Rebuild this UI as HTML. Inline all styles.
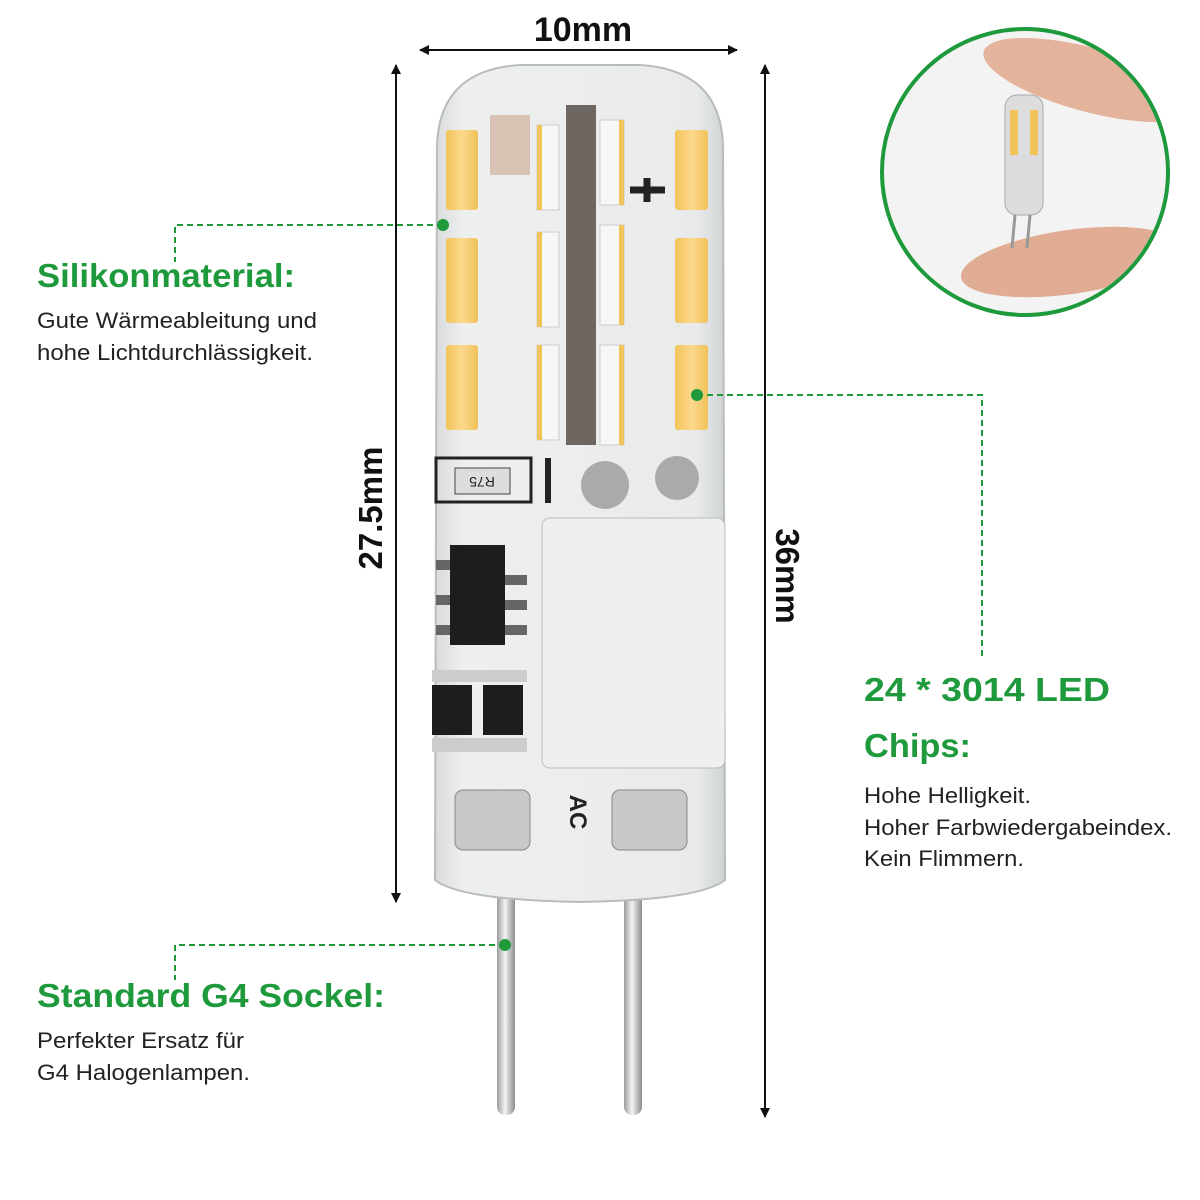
<!DOCTYPE html>
<html><head><meta charset="utf-8"><style>
html,body{margin:0;padding:0;background:#fff}
svg{display:block}
text{font-family:"Liberation Sans",sans-serif}
</style></head><body>
<svg width="1200" height="1200" viewBox="0 0 1200 1200" xmlns="http://www.w3.org/2000/svg">
<defs>
<marker id="ah" markerWidth="10" markerHeight="12" refX="9" refY="6" orient="auto-start-reverse" markerUnits="userSpaceOnUse" viewBox="0 0 10 12"><path d="M0,1 L10,6 L0,11 z" fill="#111"/></marker>
<linearGradient id="body" x1="0" x2="1"><stop offset="0" stop-color="#d8dadb"/><stop offset="0.1" stop-color="#eef0f0"/><stop offset="0.9" stop-color="#e9ebeb"/><stop offset="1" stop-color="#cfd2d3"/></linearGradient>
<linearGradient id="led" x1="0" x2="1"><stop offset="0" stop-color="#f2c35a"/><stop offset="0.5" stop-color="#fbd98c"/><stop offset="1" stop-color="#f0c15a"/></linearGradient>
<linearGradient id="pin" x1="0" x2="1"><stop offset="0" stop-color="#9a9c9e"/><stop offset="0.45" stop-color="#f4f4f4"/><stop offset="1" stop-color="#8a8c8e"/></linearGradient>
<clipPath id="cc"><circle cx="1025" cy="172" r="141"/></clipPath>
</defs>

<rect x="497" y="880" width="18" height="235" rx="8" fill="url(#pin)"/>
<rect x="624" y="880" width="18" height="235" rx="8" fill="url(#pin)"/>

<path d="M437,150 Q437,70 520,65 L640,65 Q723,70 723,150 L725,880 Q700,900 580,902 Q460,900 435,880 Z" fill="url(#body)" stroke="#b9bcbd" stroke-width="2"/>
<rect x="566" y="105" width="30" height="340" fill="#6e6660"/>
<rect x="446" y="130" width="32" height="80" rx="3" fill="url(#led)"/>
<rect x="446" y="238" width="32" height="85" rx="3" fill="url(#led)"/>
<rect x="446" y="345" width="32" height="85" rx="3" fill="url(#led)"/>
<rect x="675" y="130" width="33" height="80" rx="3" fill="url(#led)"/>
<rect x="675" y="238" width="33" height="85" rx="3" fill="url(#led)"/>
<rect x="675" y="345" width="33" height="85" rx="3" fill="url(#led)"/>
<rect x="537" y="125" width="22" height="85" fill="#f7f7f5" stroke="#ccc"/><rect x="537" y="125" width="5" height="85" fill="#f2c35a"/>
<rect x="537" y="232" width="22" height="95" fill="#f7f7f5" stroke="#ccc"/><rect x="537" y="232" width="5" height="95" fill="#f2c35a"/>
<rect x="537" y="345" width="22" height="95" fill="#f7f7f5" stroke="#ccc"/><rect x="537" y="345" width="5" height="95" fill="#f2c35a"/>
<rect x="600" y="120" width="24" height="85" fill="#f7f7f5" stroke="#ccc"/><rect x="619" y="120" width="5" height="85" fill="#f2c35a"/>
<rect x="600" y="225" width="24" height="100" fill="#f7f7f5" stroke="#ccc"/><rect x="619" y="225" width="5" height="100" fill="#f2c35a"/>
<rect x="600" y="345" width="24" height="100" fill="#f7f7f5" stroke="#ccc"/><rect x="619" y="345" width="5" height="100" fill="#f2c35a"/>
<rect x="490" y="115" width="40" height="60" fill="#c9a48a" opacity="0.6"/>
<path d="M630 190h35M647 178v24" stroke="#222" stroke-width="7"/>
<rect x="436" y="458" width="95" height="44" fill="none" stroke="#222" stroke-width="3"/>
<rect x="455" y="468" width="55" height="26" fill="#ddd" stroke="#444"/>
<text x="482" y="487" font-size="14" text-anchor="middle" fill="#222" transform="rotate(180 482 482)">R75</text>
<rect x="545" y="458" width="6" height="45" fill="#222"/>
<circle cx="605" cy="485" r="24" fill="#a8aaac"/><circle cx="677" cy="478" r="22" fill="#a8aaac"/>
<rect x="542" y="518" width="183" height="250" rx="8" fill="#eef0ef" stroke="#bbb"/>
<rect x="450" y="545" width="55" height="100" fill="#1d1d1d"/>
<rect x="436" y="560" width="14" height="10" fill="#666"/><rect x="436" y="595" width="14" height="10" fill="#666"/><rect x="436" y="625" width="14" height="10" fill="#666"/>
<rect x="505" y="575" width="22" height="10" fill="#666"/><rect x="505" y="600" width="22" height="10" fill="#666"/><rect x="505" y="625" width="22" height="10" fill="#666"/>
<rect x="432" y="685" width="40" height="50" fill="#1d1d1d"/>
<rect x="483" y="685" width="40" height="50" fill="#1d1d1d"/>
<rect x="432" y="670" width="95" height="12" fill="#ccc"/><rect x="432" y="738" width="95" height="14" fill="#ccc"/>
<rect x="455" y="790" width="75" height="60" rx="8" fill="#c6c8c9" stroke="#888"/>
<rect x="612" y="790" width="75" height="60" rx="8" fill="#c6c8c9" stroke="#888"/>
<text x="570" y="812" font-size="24" font-weight="bold" fill="#222" transform="rotate(90 570 812)" text-anchor="middle">AC</text>

<line x1="420" y1="50" x2="737" y2="50" stroke="#111" stroke-width="2" marker-start="url(#ah)" marker-end="url(#ah)"/>
<text x="583" y="41" font-size="34" font-weight="bold" text-anchor="middle" fill="#111">10mm</text>
<line x1="396" y1="65" x2="396" y2="902" stroke="#111" stroke-width="2" marker-start="url(#ah)" marker-end="url(#ah)"/>
<text x="0" y="0" font-size="33" font-weight="bold" text-anchor="middle" fill="#111" transform="translate(382 508) rotate(-90)">27.5mm</text>
<line x1="765" y1="65" x2="765" y2="1117" stroke="#111" stroke-width="2" marker-start="url(#ah)" marker-end="url(#ah)"/>
<text x="0" y="0" font-size="33" font-weight="bold" text-anchor="middle" fill="#111" transform="translate(776 576) rotate(90)">36mm</text>

<circle cx="1025" cy="172" r="143" fill="#f3f3f3"/>
<g clip-path="url(#cc)">
<ellipse cx="1090" cy="80" rx="110" ry="32" fill="#e4b39b" transform="rotate(15 1090 80)"/>
<ellipse cx="1070" cy="262" rx="110" ry="32" fill="#e0ad94" transform="rotate(-8 1070 262)"/>
<rect x="1005" y="95" width="38" height="120" rx="12" fill="#ddd" stroke="#aaa"/>
<rect x="1010" y="110" width="8" height="45" fill="#f2c35a"/><rect x="1030" y="110" width="8" height="45" fill="#f2c35a"/>
<line x1="1015" y1="215" x2="1012" y2="248" stroke="#999" stroke-width="3"/><line x1="1030" y1="215" x2="1027" y2="248" stroke="#999" stroke-width="3"/>
</g>
<circle cx="1025" cy="172" r="143" fill="none" stroke="#1e9a3c" stroke-width="4"/>

<g stroke="#1e9a3c" stroke-width="2" stroke-dasharray="6,4" fill="none">
<path d="M443 225 H175 V262"/>
<path d="M697 395 H982 V660"/>
<path d="M505 945 H175 V980"/>
</g>
<g fill="#1e9a3c"><circle cx="443" cy="225" r="6"/><circle cx="697" cy="395" r="6"/><circle cx="505" cy="945" r="6"/></g>

<g fill="#1e9a3c" font-size="33" font-weight="bold">
<text x="37" y="287" textLength="258" lengthAdjust="spacingAndGlyphs">Silikonmaterial:</text>
<text x="864" y="701" textLength="246" lengthAdjust="spacingAndGlyphs">24 * 3014 LED</text>
<text x="864" y="757" textLength="107" lengthAdjust="spacingAndGlyphs">Chips:</text>
<text x="37" y="1007" textLength="348" lengthAdjust="spacingAndGlyphs">Standard G4 Sockel:</text>
</g>
<g fill="#222" font-size="22">
<text x="37" y="328" textLength="280" lengthAdjust="spacingAndGlyphs">Gute Wärmeableitung und</text>
<text x="37" y="360" textLength="276" lengthAdjust="spacingAndGlyphs">hohe Lichtdurchlässigkeit.</text>
<text x="864" y="803" textLength="167" lengthAdjust="spacingAndGlyphs">Hohe Helligkeit.</text>
<text x="864" y="835" textLength="308" lengthAdjust="spacingAndGlyphs">Hoher Farbwiedergabeindex.</text>
<text x="864" y="866" textLength="160" lengthAdjust="spacingAndGlyphs">Kein Flimmern.</text>
<text x="37" y="1048" textLength="207" lengthAdjust="spacingAndGlyphs">Perfekter Ersatz für</text>
<text x="37" y="1080" textLength="213" lengthAdjust="spacingAndGlyphs">G4 Halogenlampen.</text>
</g>
</svg>
</body></html>
